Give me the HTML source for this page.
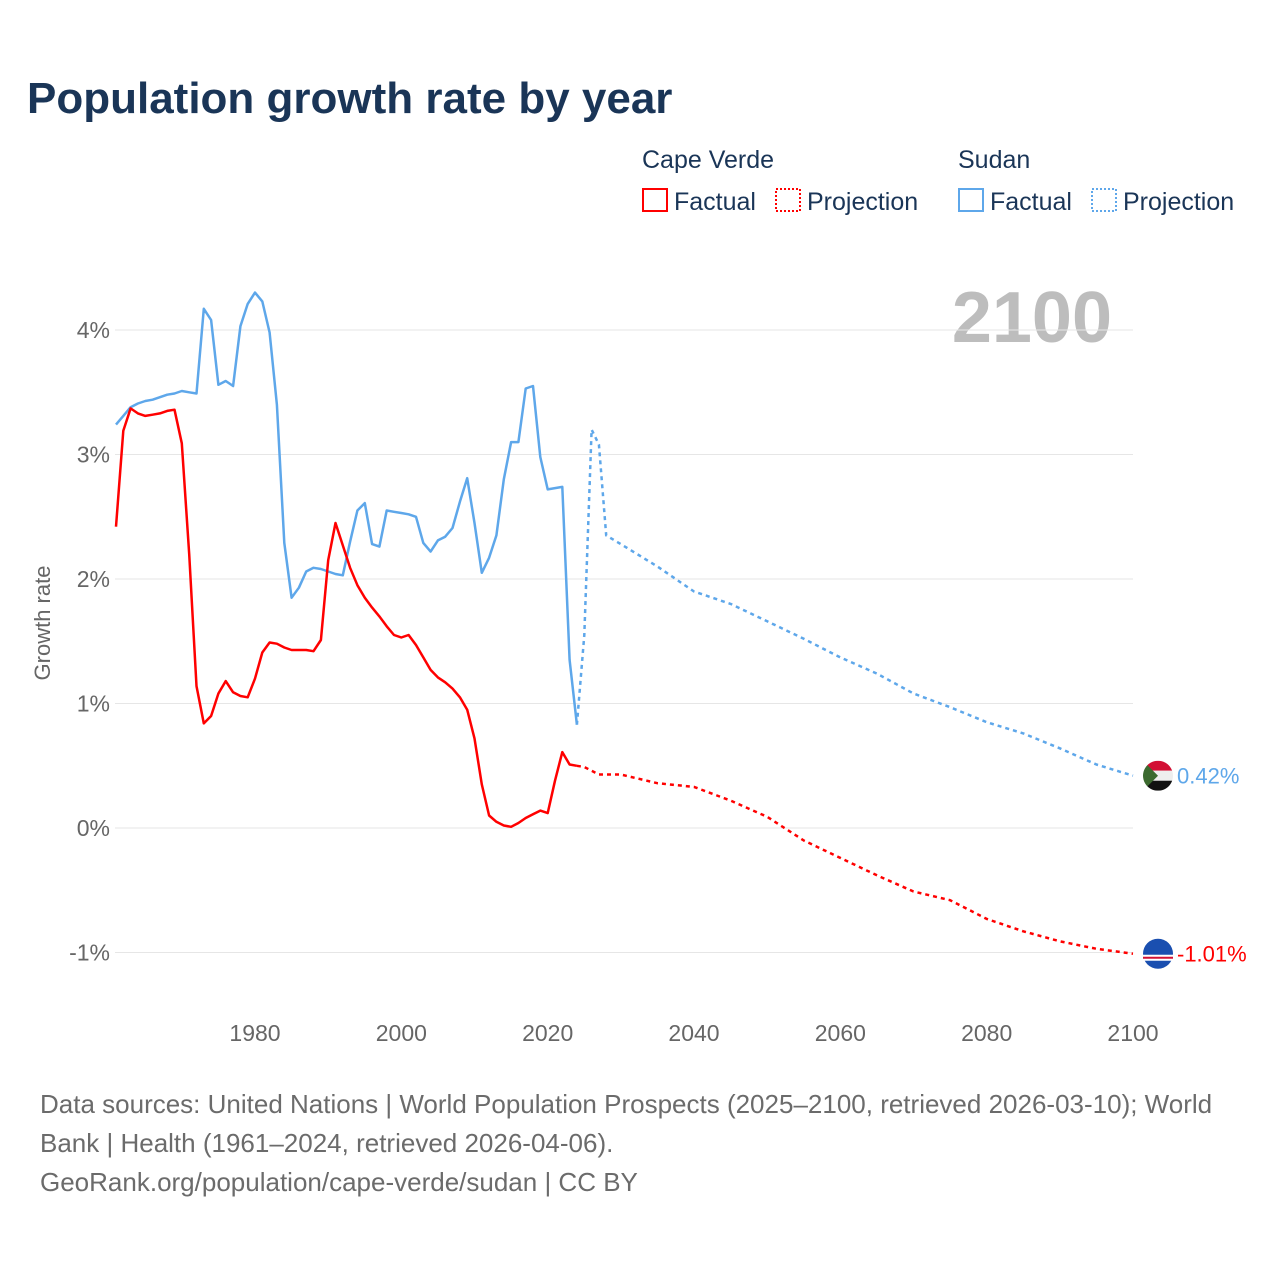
<!DOCTYPE html>
<html><head><meta charset="utf-8"><style>
body{margin:0;background:#fff;font-family:"Liberation Sans",sans-serif;}
#wrap{position:relative;width:1280px;height:1280px;overflow:hidden;}
</style></head><body>
<div id="wrap">
<svg id="chart" width="1280" height="1280" xmlns="http://www.w3.org/2000/svg">
<text x="27" y="113" font-size="44" font-weight="bold" fill="#1a3557">Population growth rate by year</text>
<g font-size="25" fill="#1a3557">
<text x="642" y="168">Cape Verde</text>
<text x="958" y="168">Sudan</text>
<g><rect x="643" y="189" width="24" height="22" fill="none" stroke="#f00" stroke-width="2"/><text x="674" y="210">Factual</text></g>
<g><rect x="776" y="189" width="24" height="22" fill="none" stroke="#f00" stroke-width="2" stroke-dasharray="2,2"/><text x="807" y="210">Projection</text></g>
<g><rect x="959" y="189" width="24" height="22" fill="none" stroke="#5ea7ea" stroke-width="2"/><text x="990" y="210">Factual</text></g>
<g><rect x="1092" y="189" width="24" height="22" fill="none" stroke="#5ea7ea" stroke-width="2" stroke-dasharray="2,2"/><text x="1123" y="210">Projection</text></g>
</g>
<text x="1112" y="342" font-size="72" font-weight="bold" fill="#bdbdbd" text-anchor="end">2100</text>
<text transform="translate(50,623) rotate(-90)" font-size="22" fill="#666" text-anchor="middle">Growth rate</text>
<g id="grid"></g><g id="series"></g>
<g font-size="26" fill="#6b6b6b">
<text x="40" y="1113">Data sources: United Nations | World Population Prospects (2025–2100, retrieved 2026-03-10); World</text>
<text x="40" y="1152">Bank | Health (1961–2024, retrieved 2026-04-06).</text>
<text x="40" y="1191">GeoRank.org/population/cape-verde/sudan | CC BY</text>
</g>
</svg>
</div>
<script>
const yTicks=[-1,0,1,2,3,4];
const xTicks=[1980,2000,2020,2040,2060,2080,2100];
const cvFactYears=[1961,1962,1963,1964,1965,1966,1967,1968,1969,1970,1971,1972,1973,1974,1975,1976,1977,1978,1979,1980,1981,1982,1983,1984,1985,1986,1987,1988,1989,1990,1991,1992,1993,1994,1995,1996,1997,1998,1999,2000,2001,2002,2003,2004,2005,2006,2007,2008,2009,2010,2011,2012,2013,2014,2015,2016,2017,2018,2019,2020,2021,2022,2023,2024];
const cvFact=[2.42,3.19,3.37,3.33,3.31,3.32,3.33,3.35,3.36,3.09,2.2,1.14,0.84,0.9,1.08,1.18,1.09,1.06,1.05,1.2,1.41,1.49,1.48,1.45,1.43,1.43,1.43,1.42,1.51,2.15,2.45,2.27,2.09,1.95,1.85,1.77,1.7,1.62,1.55,1.53,1.55,1.47,1.37,1.27,1.21,1.17,1.12,1.05,0.95,0.72,0.35,0.1,0.05,0.02,0.01,0.04,0.08,0.11,0.14,0.12,0.38,0.61,0.51,0.5];
const sdFact=[3.24,3.31,3.38,3.41,3.43,3.44,3.46,3.48,3.49,3.51,3.5,3.49,4.17,4.08,3.56,3.59,3.55,4.03,4.21,4.3,4.23,3.98,3.4,2.29,1.85,1.93,2.06,2.09,2.08,2.06,2.04,2.03,2.3,2.55,2.61,2.28,2.26,2.55,2.54,2.53,2.52,2.5,2.29,2.22,2.31,2.34,2.41,2.62,2.81,2.45,2.05,2.17,2.35,2.8,3.1,3.1,3.53,3.55,2.98,2.72,2.73,2.74,1.35,0.83];
const cvProjYears=[2024,2025,2027,2030,2035,2040,2045,2050,2055,2060,2065,2070,2075,2080,2085,2090,2095,2100];
const cvProj=[0.5,0.49,0.43,0.43,0.36,0.33,0.22,0.09,-0.1,-0.24,-0.38,-0.51,-0.58,-0.73,-0.83,-0.91,-0.97,-1.01];
const sdProjYears=[2024,2025,2026,2027,2028,2030,2035,2040,2045,2050,2055,2060,2065,2070,2075,2080,2085,2090,2095,2100];
const sdProj=[0.83,1.55,3.2,3.08,2.35,2.28,2.1,1.9,1.8,1.66,1.52,1.37,1.24,1.08,0.97,0.85,0.76,0.64,0.51,0.42];
const labels=['0.42%','-1.01%'];
const NS='http://www.w3.org/2000/svg';
function X(y){return 255+(y-1980)*(878/120);}
function Y(v){return 828-v*124.5;}
const grid=document.getElementById('grid'),ser=document.getElementById('series');
function mk(tag,attrs,parent){const e=document.createElementNS(NS,tag);for(const k in attrs)e.setAttribute(k,attrs[k]);parent.appendChild(e);return e;}
yTicks.forEach(t=>{
 const l=mk('line',{x1:115,x2:1133,y1:Y(t),y2:Y(t),stroke:'#e6e6e6','stroke-width':1},grid);
 
 
 const tx=mk('text',{x:110,y:Y(t)+8,'font-size':23,fill:'#666','text-anchor':'end'},grid);
 tx.textContent=t+'%';
 
 
});
xTicks.forEach(t=>{
 const tx=mk('text',{x:X(t),y:1041,'font-size':23,fill:'#666','text-anchor':'middle'},grid);
 tx.textContent=t;
 
 
});
function line(xs,vs,col,dash,name){
 const p=mk('path',{d:xs.map((x,i)=>(i?'L':'M')+X(x).toFixed(1)+','+Y(vs[i]).toFixed(1)).join(''),fill:'none',stroke:col,'stroke-width':2.5,'stroke-linejoin':'round'},ser);
 if(dash)p.setAttribute('stroke-dasharray','4,4');
 
 
}
line(sdProjYears,sdProj,'#5ea7ea',true,'sudan-projection-line');
line(cvProjYears,cvProj,'#f00',true,'cape-verde-projection-line');
line(cvFactYears,sdFact,'#5ea7ea',false,'sudan-factual-line');
line(cvFactYears,cvFact,'#f00',false,'cape-verde-factual-line');
const sy=Y(sdProj[sdProj.length-1]),cy=Y(cvProj[cvProj.length-1]),ex=1158;
const sg=mk('g',{},ser);


mk('rect',{x:ex-15,y:sy-15,width:30,height:10,fill:'#d21034'},sg);
mk('rect',{x:ex-15,y:sy-5,width:30,height:10,fill:'#eee'},sg);
mk('rect',{x:ex-15,y:sy+5,width:30,height:10,fill:'#111'},sg);
mk('path',{d:`M${ex-15},${sy-15}L${ex},${sy}L${ex-15},${sy+15}Z`,fill:'#3c6a2f'},sg);
mk('path',{d:`M${ex-16},${sy-16}h32v32h-32Z M${ex},${sy-15}a15,15 0 1,0 0.01,0Z`,fill:'#fff','fill-rule':'evenodd'},sg);
const cg=mk('g',{},ser);


mk('circle',{cx:ex,cy:cy,r:15,fill:'#1a4fb0'},cg);
mk('rect',{x:ex-15,y:cy+1,width:30,height:6,fill:'#fff'},cg);
mk('rect',{x:ex-15,y:cy+3,width:30,height:2,fill:'#d21034'},cg);
const t1=mk('text',{x:1177,y:sy+8,'font-size':22,fill:'#5ea7ea'},ser);
t1.textContent=labels[0];


const t2=mk('text',{x:1177,y:cy+8,'font-size':22,fill:'#f00'},ser);
t2.textContent=labels[1];


</script>
</body></html>
